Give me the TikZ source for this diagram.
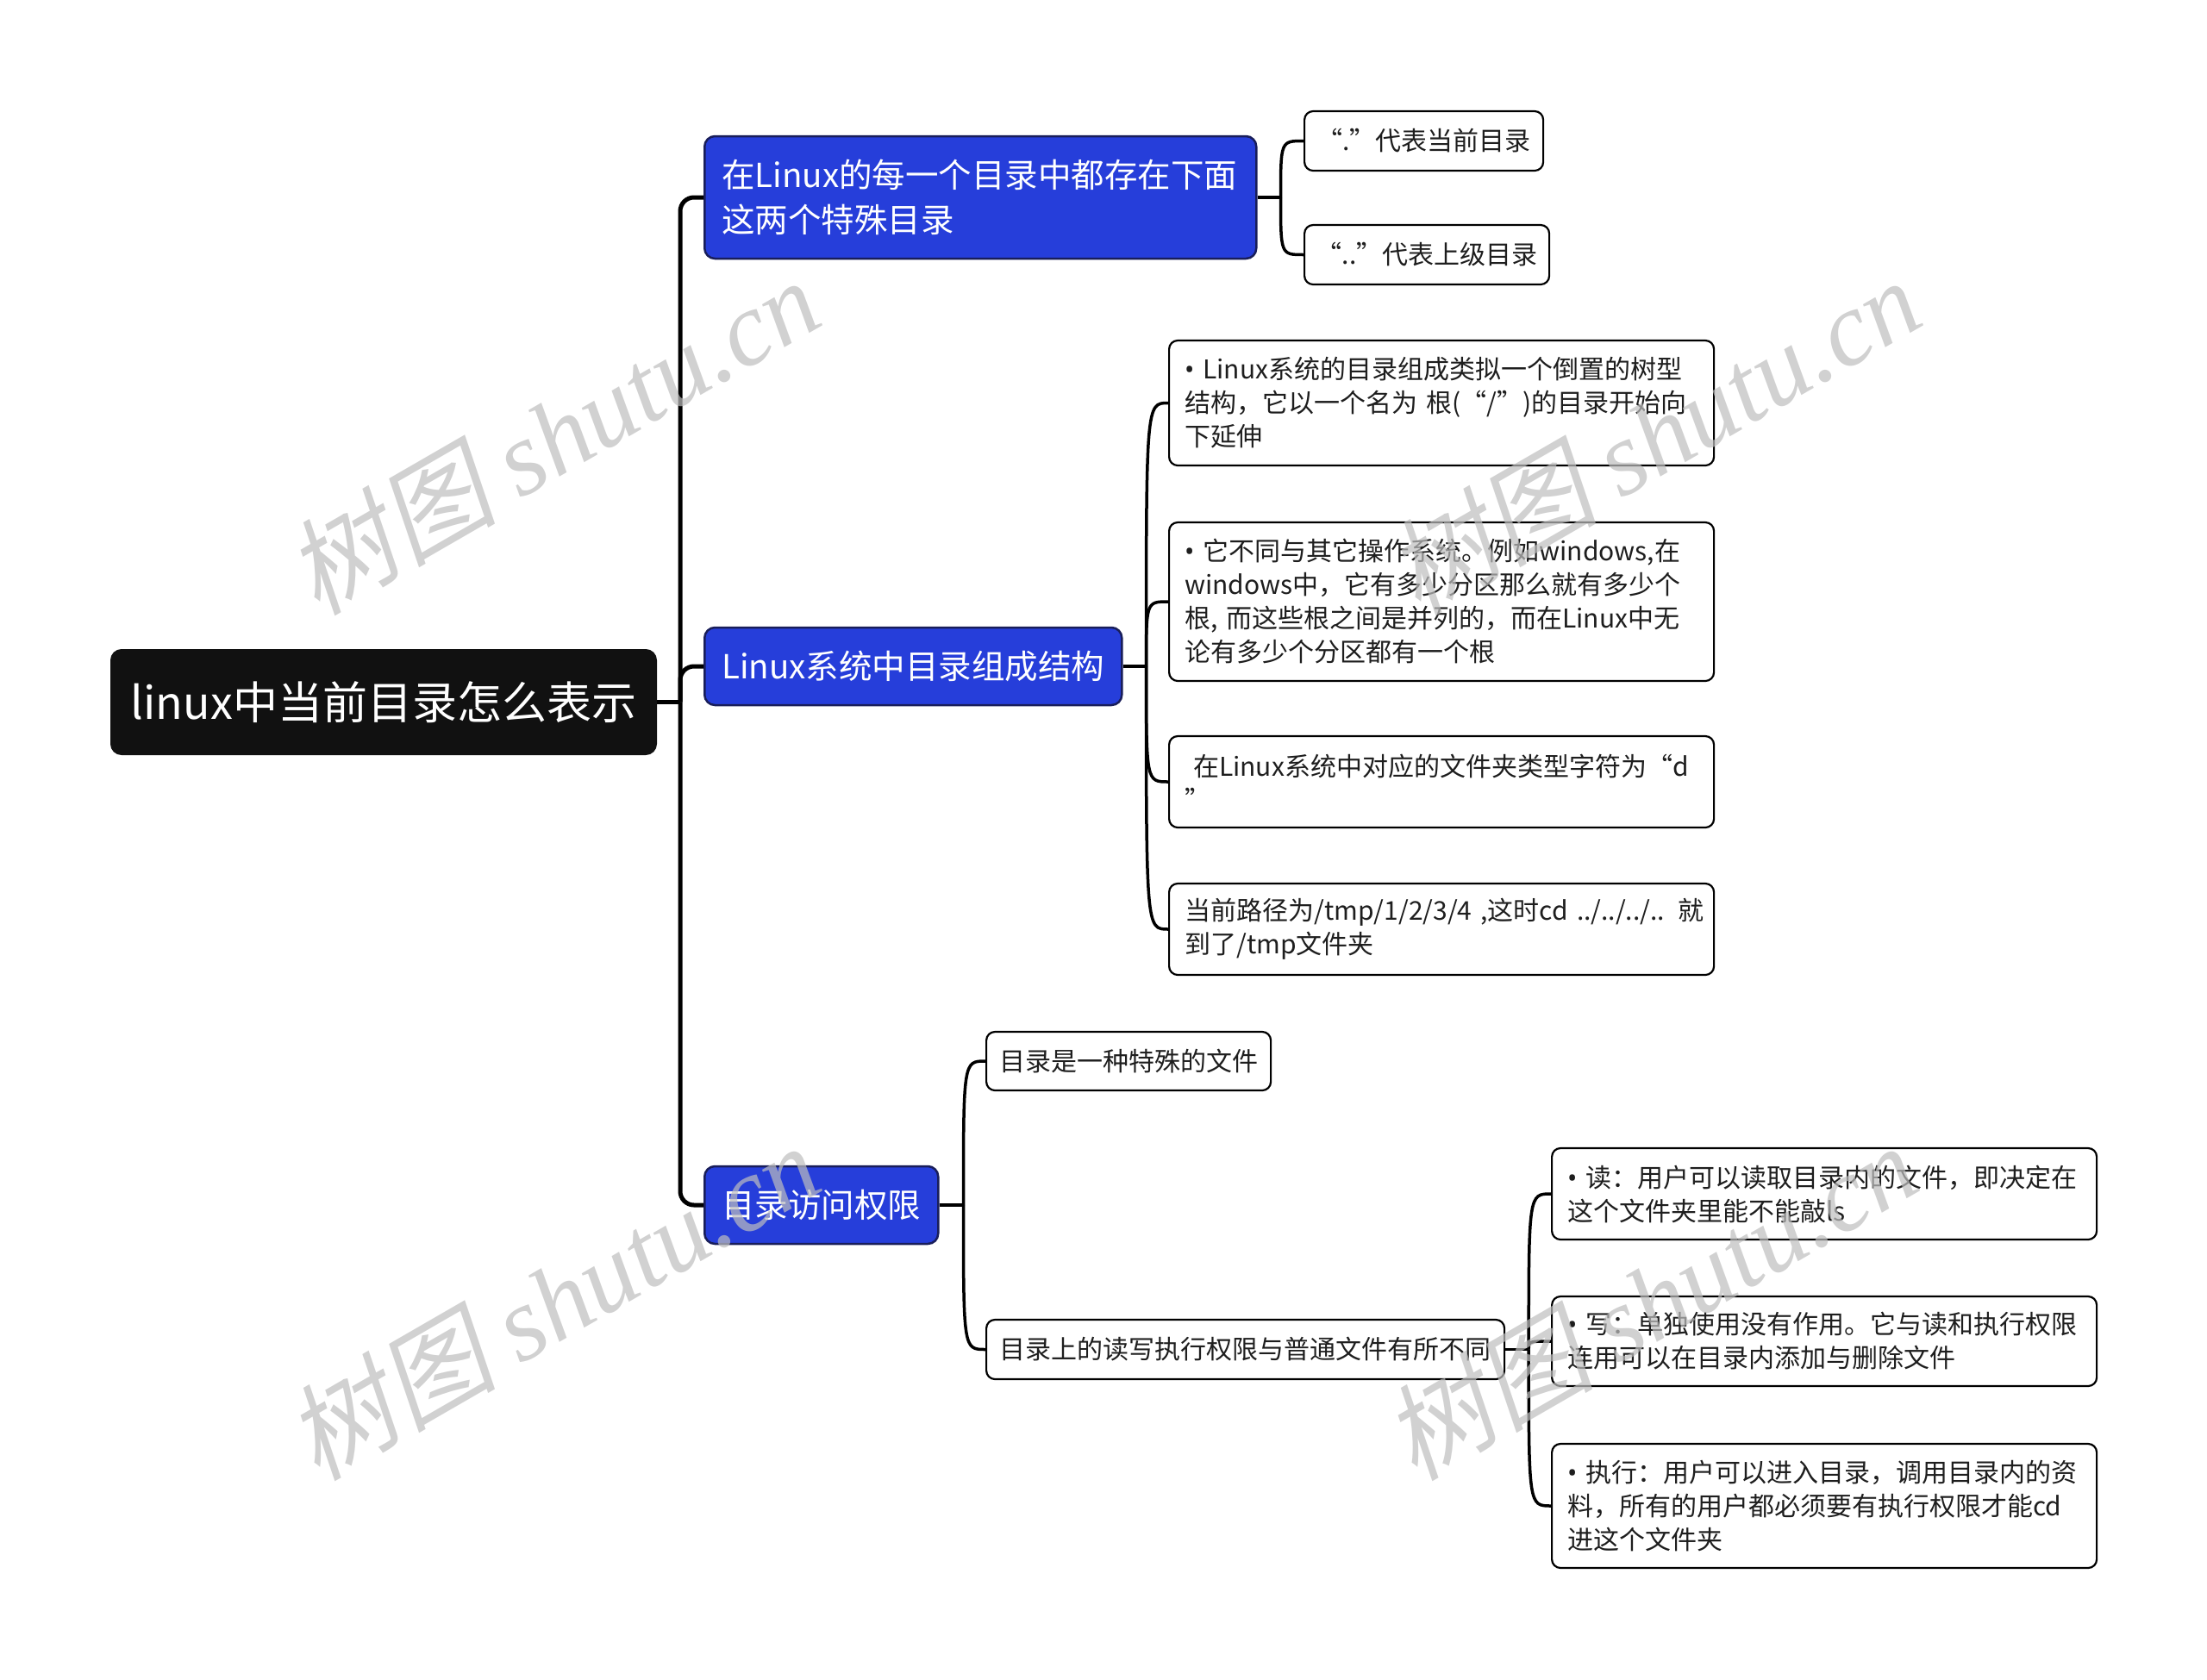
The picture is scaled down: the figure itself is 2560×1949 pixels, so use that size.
\documentclass[tikz,border=0pt]{standalone}
\usepackage{fontspec}
\setmainfont{Noto Sans CJK SC}
\newfontfamily\wmcjk{Noto Sans CJK SC}[FakeSlant=0.2]
\newfontfamily\wmlat{Liberation Serif}
\newfontfamily\latinfont{Noto Sans}
\newcommand\mybullet{{\latinfont •}\ }
\definecolor{nodeblue}{RGB}{38,62,218}
\definecolor{bluedark}{RGB}{25,30,90}
\definecolor{rootblack}{RGB}{17,17,17}
\definecolor{txtcol}{RGB}{30,30,30}
\definecolor{wmcol}{RGB}{190,190,190}
\tikzset{
  rootnode/.style={draw=rootblack, fill=rootblack, line width=2pt, rounded corners=12pt,
    text=white, font=\fontsize{52}{62}\selectfont, minimum width=632pt, minimum height=121pt,
    inner sep=0pt},
  bluenode/.style={draw=bluedark, fill=nodeblue, line width=2.5pt, rounded corners=12pt,
    text=white, font=\fontsize{38.5}{52}\selectfont, anchor=west, inner xsep=20pt, inner ysep=0pt},
  leaf/.style={draw=black, fill=white, line width=2.2pt, rounded corners=10pt,
    text=txtcol, font=\fontsize{30}{39}\selectfont, anchor=west, inner xsep=18pt, inner ysep=0pt},
  single/.style={inner xsep=12pt},
  wide/.style={text width=596pt, align=left},
  mainline/.style={draw=black, line width=5pt},
  subline/.style={draw=black, line width=3.5pt},
  wmark/.style={text=wmcol, text opacity=0.7, rotate=30, anchor=base, font=\fontsize{122}{122}\selectfont}
}
\begin{document}
\begin{tikzpicture}[x=1pt,y=-1pt]
\useasboundingbox (0,0) rectangle (2560,1949);

% root and main branches
\node[rootnode] (root) at (445,814.5) {linux中当前目录怎么表示};
\node[bluenode, text width=600pt, align=left, minimum height=142pt] (b1) at (816,229)
  {在Linux的每一个目录中都存在下面\\这两个特殊目录};
\node[bluenode, minimum width=484pt, minimum height=90pt] (b2) at (816,773) {Linux系统中目录组成结构};
\node[bluenode, minimum width=271pt, minimum height=90pt] (b3) at (816,1398) {目录访问权限};

% leaves of b1
\node[leaf, single, minimum width=277pt, minimum height=69pt] (l1) at (1512,163.5) {“.”代表当前目录};
\node[leaf, single, minimum width=284pt, minimum height=69pt] (l2) at (1512,295.5) {“..”代表上级目录};

% leaves of b2
\node[leaf, wide, minimum height=145pt] (a1) at (1355,467.5)
  {\mybullet Linux系统的目录组成类拟一个倒置的树型\\结构，它以一个名为 根(“/”)的目录开始向\\下延伸};
\node[leaf, wide, minimum height=184pt] (a2) at (1355,698)
  {\mybullet 它不同与其它操作系统。例如windows,在\\windows中，它有多少分区那么就有多少个\\根, 而这些根之间是并列的，而在Linux中无\\论有多少个分区都有一个根};
\node[leaf, wide, minimum height=106pt] (a3) at (1355,907)
  {\ 在Linux系统中对应的文件夹类型字符为“d\\”};
\node[leaf, wide, minimum height=106pt] (a4) at (1355,1078)
  {\mbox{当前路径为/tmp/1/2/3/4 ,这时cd ../../../.. 就}\\到了/tmp文件夹};

% leaves of b3
\node[leaf, single, minimum width=330pt, minimum height=68pt] (p1) at (1143,1231) {目录是一种特殊的文件};
\node[leaf, single, minimum width=601pt, minimum height=69pt] (p2) at (1143,1565.5) {目录上的读写执行权限与普通文件有所不同};

% leaves of p2
\node[leaf, wide, minimum height=106pt] (r1) at (1799,1385)
  {\mybullet 读：用户可以读取目录内的文件，即决定在\\这个文件夹里能不能敲ls};
\node[leaf, wide, minimum height=104pt] (r2) at (1799,1556)
  {\mybullet 写：单独使用没有作用。它与读和执行权限\\连用可以在目录内添加与删除文件};
\node[leaf, wide, minimum height=144pt] (r3) at (1799,1747)
  {\mybullet 执行：用户可以进入目录，调用目录内的资\\料，所有的用户都必须要有执行权限才能cd\\进这个文件夹};

% main connectors
\draw[mainline] (root.east) -- (789,814.5) coordinate (j0);
\draw[mainline, rounded corners=16pt] (j0) |- (b1.west);
\draw[mainline, rounded corners=16pt] (j0) |- (b2.west);
\draw[mainline, rounded corners=16pt] (j0) |- (b3.west);

% b1 connectors
\draw[subline] (b1.east) -- ++(27,0) coordinate (j1);
\draw[subline] (j1) .. controls (j1 |- l1.west) and (j1 |- l1.west) .. (l1.west);
\draw[subline] (j1) .. controls (j1 |- l2.west) and (j1 |- l2.west) .. (l2.west);

% b2 connectors
\draw[subline] (b2.east) -- ++(27,0) coordinate (j2);
\draw[subline] (j2) .. controls (j2 |- a1.west) and (j2 |- a1.west) .. (a1.west);
\draw[subline] (j2) .. controls (j2 |- a2.west) and (j2 |- a2.west) .. (a2.west);
\draw[subline] (j2) .. controls (j2 |- a3.west) and (j2 |- a3.west) .. (a3.west);
\draw[subline] (j2) .. controls (j2 |- a4.west) and (j2 |- a4.west) .. (a4.west);

% b3 connectors
\draw[subline] (b3.east) -- ++(28,0) coordinate (j3);
\draw[subline] (j3) .. controls (j3 |- p1.west) and (j3 |- p1.west) .. (p1.west);
\draw[subline] (j3) .. controls (j3 |- p2.west) and (j3 |- p2.west) .. (p2.west);

% p2 connectors
\draw[subline] (p2.east) -- ++(27,0) coordinate (j4);
\draw[subline] (j4) .. controls (j4 |- r1.west) and (j4 |- r1.west) .. (r1.west);
\draw[subline] (j4) .. controls (j4 |- r2.west) and (j4 |- r2.west) .. (r2.west);
\draw[subline] (j4) .. controls (j4 |- r3.west) and (j4 |- r3.west) .. (r3.west);

% watermarks
\node[wmark] (wm1) at (664,545) {{\wmcjk 树图} {\wmlat\itshape shutu.cn}};
\node[wmark] (wm2) at (1941,545) {{\wmcjk 树图} {\wmlat\itshape shutu.cn}};
\node[wmark] (wm3) at (664,1549) {{\wmcjk 树图} {\wmlat\itshape shutu.cn}};
\node[wmark] (wm4) at (1937,1549) {{\wmcjk 树图} {\wmlat\itshape shutu.cn}};
\end{tikzpicture}
\end{document}
